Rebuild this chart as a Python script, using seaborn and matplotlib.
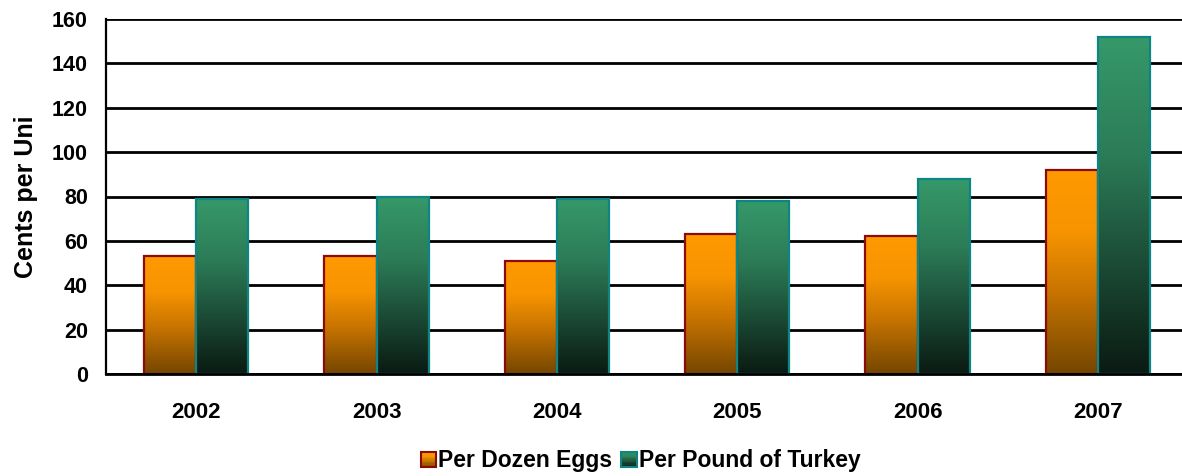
import numpy as np
import pandas as pd
import matplotlib
matplotlib.use("Agg")
import matplotlib.pyplot as plt
import seaborn as sns
from matplotlib.colors import LinearSegmentedColormap
from matplotlib.patches import Rectangle
from matplotlib.legend_handler import HandlerBase

years = ["2002", "2003", "2004", "2005", "2006", "2007"]
series_names = ["Per Dozen Eggs", "Per Pound of Turkey"]
eggs = [53, 53, 51, 63, 62, 92]
turkey = [79, 80, 79, 78, 88, 152]
y_ticks = [0, 20, 40, 60, 80, 100, 120, 140, 160]

df = pd.DataFrame({
    "year": years * 2,
    "series": [series_names[0]] * len(years) + [series_names[1]] * len(years),
    "value": eggs + turkey,
})

# vertical gradients: position 0 = top of bar, 1 = bottom
egg_cmap = LinearSegmentedColormap.from_list(
    "egg", [(0.0, "#FF9900"), (0.3, "#F79400"), (0.6, "#C87400"), (1.0, "#744600")])
turkey_cmap = LinearSegmentedColormap.from_list(
    "turkey", [(0.0, "#36996A"), (0.35, "#2C7C57"), (0.7, "#1A4733"), (1.0, "#0A1A12")])
edge_colors = {series_names[0]: "#8B0A0A", series_names[1]: "#0E8585"}
cmaps = {series_names[0]: egg_cmap, series_names[1]: turkey_cmap}

sns.set_theme(style="white")
plt.rcParams["font.family"] = ["Liberation Sans", "DejaVu Sans"]
plt.rcParams["font.weight"] = "bold"
for key in ["text.color", "axes.labelcolor", "xtick.color", "ytick.color"]:
    plt.rcParams[key] = "black"

fig = plt.figure(figsize=(11.82, 4.76), dpi=100)
ax = fig.add_axes([106 / 1182, 1 - 374 / 476, 1082 / 1182, 355 / 476])

sns.barplot(data=df, x="year", y="value", hue="series",
            palette=["#FF9900", "#339966"], width=0.58, dodge=True,
            ax=ax, legend=False, zorder=2)

grad = np.linspace(0, 1, 256).reshape(-1, 1)
n = len(years)
for i, patch in enumerate(ax.patches[:2 * n]):
    name = series_names[i // n]
    x0, y0 = patch.get_x(), patch.get_y()
    w, h = patch.get_width(), patch.get_height()
    patch.set_facecolor("none")
    patch.set_edgecolor(edge_colors[name])
    patch.set_linewidth(1.6)
    patch.set_zorder(3)
    im = ax.imshow(grad, cmap=cmaps[name], aspect="auto",
                   extent=(x0, x0 + w, y0, y0 + h), origin="upper",
                   zorder=2.5, interpolation="bilinear")
    im.set_clip_path(patch)

ax.set_xlim(-0.5, n - 0.5)
ax.set_ylim(0, 160)
ax.set_yticks(y_ticks)
ax.set_yticklabels([str(v) for v in y_ticks], fontsize=15.5, fontweight="bold")
ax.set_xticks(range(n))
ax.set_xticklabels(years, fontsize=16, fontweight="bold")
ax.tick_params(axis="x", which="major", length=0, pad=20)
ax.set_xticks(np.arange(-0.5, n, 1.0), minor=True)
ax.tick_params(axis="x", which="minor", length=6.5, width=1.6, color="black", direction="out")
ax.tick_params(axis="y", length=0, pad=13)

ax.yaxis.grid(True, color="black", linewidth=2, zorder=1)
ax.set_axisbelow(True)
for side in ["top", "right"]:
    ax.spines[side].set_visible(False)
ax.spines["left"].set_color("black")
ax.spines["left"].set_linewidth(1.6)
ax.spines["bottom"].set_color("black")
ax.spines["bottom"].set_linewidth(2)
ax.spines["bottom"].set_zorder(4)

ax.set_xlabel("")
ax.set_ylabel("Cents per Uni", fontsize=18, fontweight="bold", labelpad=10)


class GradientHandler(HandlerBase):
    def __init__(self, cmap, edge):
        super().__init__()
        self.cmap = cmap
        self.edge = edge

    def create_artists(self, legend, orig_handle, xdescent, ydescent,
                       width, height, fontsize, trans):
        size = height * 0.95
        x = -xdescent + width - size
        y = -ydescent + (height - size) / 2
        arts = []
        steps = 12
        for k in range(steps):
            frac = (k + 0.5) / steps
            arts.append(Rectangle((x, y + size * (1 - (k + 1) / steps)), size, size / steps,
                                  facecolor=self.cmap(frac), edgecolor="none",
                                  transform=trans))
        arts.append(Rectangle((x, y), size, size, facecolor="none",
                              edgecolor=self.edge, linewidth=1.5, transform=trans))
        return arts


h1 = Rectangle((0, 0), 1, 1)
h2 = Rectangle((0, 0), 1, 1)
fig.legend([h1, h2], series_names,
           handler_map={h1: GradientHandler(egg_cmap, edge_colors[series_names[0]]),
                        h2: GradientHandler(turkey_cmap, edge_colors[series_names[1]])},
           loc="center", bbox_to_anchor=(641 / 1182, 1 - 461 / 476),
           ncol=2, frameon=False, prop={"weight": "bold", "size": 16.5},
           handlelength=0.65, handletextpad=0.1, columnspacing=0.4, borderpad=0)

fig.savefig("out.png", dpi=100, facecolor="white")
